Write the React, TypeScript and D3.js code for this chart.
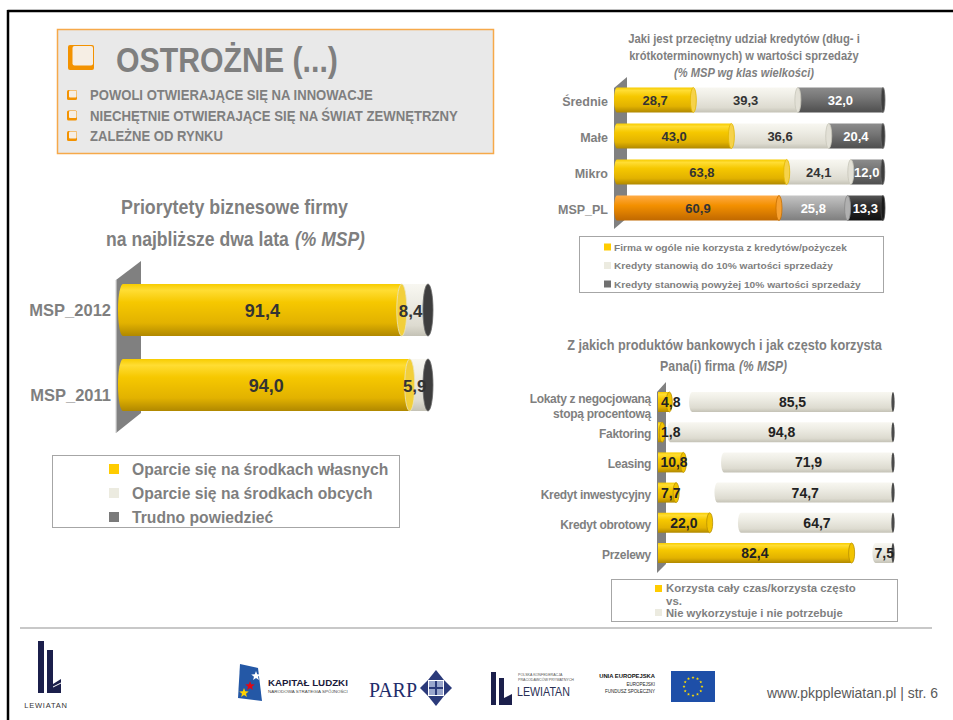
import React, { useLayoutEffect, useRef, useState } from 'react';
import * as d3 from 'd3';

const W = 953;
const H = 720;
const SANS = "'Liberation Sans', Arial, sans-serif";
const NARROW = "'Liberation Sans Narrow', 'Arial Narrow', 'Liberation Sans', sans-serif";
const GREY_TXT = '#7f7f7f';

// ---------- header ----------
const headerTitle = 'OSTROŻNE (...)';
const headerBullets = [
  'POWOLI OTWIERAJĄCE SIĘ NA INNOWACJE',
  'NIECHĘTNIE OTWIERAJĄCE SIĘ NA ŚWIAT ZEWNĘTRZNY',
  'ZALEŻNE OD RYNKU',
];
const headerBulletWidths = [283, 368, 133];

// ---------- chart 1: priorities ----------
const prioTitle1 = 'Priorytety biznesowe firmy';
const prioTitle2a = 'na najbliższe dwa lata';
const prioTitle2b = '(% MSP)';
const prioCategories = ['MSP_2012', 'MSP_2011'];
const prioOwn = [91.4, 94.0];
const prioForeign = [8.4, 5.9];
const prioHard = [0.2, 0.1];
const prioLegend = ['Oparcie się na środkach własnych', 'Oparcie się na środkach obcych', 'Trudno powiedzieć'];

// ---------- chart 2: credit share ----------
const creditTitle = ['Jaki jest przeciętny udział kredytów (dług- i', 'krótkoterminownych) w wartości sprzedaży', '(% MSP wg klas wielkości)'];
const creditCategories = ['Średnie', 'Małe', 'Mikro', 'MSP_PL'];
const creditNone = [28.7, 43.0, 63.8, 60.9];
const creditUpTo10 = [39.3, 36.6, 24.1, 25.8];
const creditOver10 = [32.0, 20.4, 12.0, 13.3];
const creditLegend = [
  'Firma w ogóle nie korzysta z kredytów/pożyczek',
  'Kredyty stanowią do 10% wartości sprzedaży',
  'Kredyty stanowią powyżej 10% wartości sprzedaży',
];
const creditLegendWidths = [233, 219, 247];

// ---------- chart 3: bank products ----------
const prodTitle1 = 'Z jakich produktów bankowych i jak często korzysta';
const prodTitle2a = 'Pana(i) firma';
const prodTitle2b = '(% MSP)';
const prodCategories = [
  ['Lokaty z negocjowaną', 'stopą procentową'],
  ['Faktoring'],
  ['Leasing'],
  ['Kredyt inwestycyjny'],
  ['Kredyt obrotowy'],
  ['Przelewy'],
];
const prodOften = [4.8, 1.8, 10.8, 7.7, 22.0, 82.4];
const prodNever = [85.5, 94.8, 71.9, 74.7, 64.7, 7.5];
const prodLegend = ['Korzysta cały czas/korzysta często', 'vs.', 'Nie wykorzystuje i nie potrzebuje'];

const fmt = (v: number) => d3.format('.1f')(v).replace('.', ',');

// Text horizontally scaled to a given width (imitates a condensed face)
function FitText({ x, y, width, anchor = 'start', children, ...rest }: any) {
  const ref = useRef<SVGTextElement>(null);
  const [s, setS] = useState(1);
  useLayoutEffect(() => {
    if (ref.current) {
      const w = ref.current.getComputedTextLength();
      if (w > 0) setS(width / w);
    }
  }, [width]);
  return (
    <text ref={ref} transform={`translate(${x},${y}) scale(${s},1)`} textAnchor={anchor} {...rest}>
      {children}
    </text>
  );
}

type Seg = { x0: number; x1: number; grad: string; cap: string; capStroke?: string; capRx?: number };

function Cylinder({ segs, yc, h, rx, leftRound = true }: { segs: Seg[]; yc: number; h: number; rx: number; leftRound?: boolean }) {
  const top = yc - h / 2;
  const bot = yc + h / 2;
  const ry = h / 2;
  return (
    <g>
      {segs.map((s, i) => {
        const round = i === 0 ? leftRound : false;
        const d = round
          ? `M${s.x0},${top}L${s.x1},${top}L${s.x1},${bot}L${s.x0},${bot}A${rx},${ry} 0 0 1 ${s.x0},${top}Z`
          : `M${s.x0},${top}L${s.x1},${top}L${s.x1},${bot}L${s.x0},${bot}Z`;
        return <path key={'b' + i} d={d} fill={`url(#${s.grad})`} />;
      })}
      {segs.map((s, i) => (
        <ellipse key={'c' + i} cx={s.x1} cy={yc} rx={s.capRx ?? rx} ry={ry} fill={s.cap} stroke={s.capStroke || 'none'} strokeWidth={0.8} />
      ))}
    </g>
  );
}

function Grad({ id, stops }: { id: string; stops: [number, string][] }) {
  return (
    <linearGradient id={id} x1="0" y1="0" x2="0" y2="1">
      {stops.map(([o, c], i) => (
        <stop key={i} offset={o} stopColor={c} />
      ))}
    </linearGradient>
  );
}

function Header() {
  const bulletY = d3.scalePoint<number>().domain(headerBullets.map((_, i) => i)).range([100, 141]);
  return (
    <g>
      <rect x={57.5} y={29.5} width={436} height={124} fill="#e9e9e9" stroke="#f6a94a" strokeWidth={1.5} />
      <rect x={68} y={45} width={26} height={25} rx={2} fill="#f39200" />
      <rect x={72.5} y={46} width={20.5} height={19.5} rx={2} fill="#f6eee4" />
      <FitText x={116} y={72} width={222} fontFamily={NARROW} fontWeight="bold" fontSize={36} fill={GREY_TXT}>
        {headerTitle}
      </FitText>
      {headerBullets.map((b, i) => {
        const y = bulletY(i)!;
        return (
          <g key={i}>
            <rect x={67} y={y - 10} width={10} height={10} rx={1.5} fill="#f39200" />
            <rect x={69} y={y - 9.5} width={7.5} height={7} rx={1} fill="#f6eee4" />
            <FitText x={90} y={y} width={headerBulletWidths[i]} fontFamily={NARROW} fontWeight="bold" fontSize={15.5} fill={GREY_TXT}>
              {b}
            </FitText>
          </g>
        );
      })}
    </g>
  );
}

function PrioChart() {
  const x = d3.scaleLinear().domain([0, 100]).range([123, 428]);
  const y = d3.scalePoint<string>().domain(prioCategories).range([310, 385]);
  const yLab = d3.scalePoint<string>().domain(prioCategories).range([310, 395]);
  const barH = 52;
  const legendY = d3.scalePoint<number>().domain([0, 1, 2]).range([469, 517]);
  const legendColors = ['#ffcc00', '#ecebe0', '#7a7a7a'];
  return (
    <g>
      <FitText x={234.5} y={214} width={227} anchor="middle" fontFamily={NARROW} fontWeight="bold" fontSize={21} fill={GREY_TXT}>
        {prioTitle1}
      </FitText>
      <FitText x={106} y={246} width={183} fontFamily={NARROW} fontWeight="bold" fontSize={21} fill={GREY_TXT}>
        {prioTitle2a}
      </FitText>
      <FitText x={295} y={246} width={70} fontFamily={NARROW} fontWeight="bold" fontStyle="italic" fontSize={21} fill={GREY_TXT}>
        {prioTitle2b}
      </FitText>
      {/* wall */}
      <polygon points="116,280 141,261 141,413 116,433" fill="#808080" />
      <line x1={116} y1={280} x2={116} y2={433} stroke="#d8d8d8" strokeWidth={1.2} />
      {prioCategories.map((c, i) => {
        const yc = y(c)!;
        const a = prioOwn[i];
        const b = a + prioForeign[i];
        const t = b + prioHard[i];
        return (
          <g key={c}>
            <Cylinder
              yc={yc}
              h={barH}
              rx={5}
              segs={[
                { x0: x(0), x1: x(a), grad: 'gYellow', cap: '#f2cf3a', capStroke: '#e8e3c0' },
                { x0: x(a), x1: x(b), grad: 'gLight', cap: '#d6d4c8' },
                { x0: x(b), x1: x(t), grad: 'gDark', cap: '#3e3e3e', capStroke: '#6a6a6a' },
              ]}
            />
            <text x={(x(0) + x(a)) / 2} y={yc + 7} textAnchor="middle" fontFamily={SANS} fontWeight="bold" fontSize={18} fill="#333">
              {fmt(a)}
            </text>
            <text x={(x(a) + x(b)) / 2 - 4} y={yc + 7} textAnchor="middle" fontFamily={SANS} fontWeight="bold" fontSize={17} fill="#333">
              {fmt(prioForeign[i])}
            </text>
            <text x={111} y={yLab(c)! + 6} textAnchor="end" fontFamily={SANS} fontWeight="bold" fontSize={16.5} fill={GREY_TXT}>
              {c}
            </text>
          </g>
        );
      })}
      {/* legend */}
      <rect x={52.5} y={455.5} width={347} height={72} fill="#fff" stroke="#a6a6a6" strokeWidth={1} />
      {prioLegend.map((l, i) => (
        <g key={l}>
          <rect x={109} y={legendY(i)! - 5} width={10} height={10} fill={legendColors[i]} />
          <text x={132} y={legendY(i)! + 5.5} fontFamily={SANS} fontWeight="bold" fontSize={15.7} fill={GREY_TXT}>
            {l}
          </text>
        </g>
      ))}
    </g>
  );
}

function CreditChart() {
  const x = d3.scaleLinear().domain([0, 100]).range([617, 883]);
  const y = d3.scalePoint<string>().domain(creditCategories).range([100, 208]);
  const barH = 25;
  const titleY = [43, 60, 77];
  const titleW = [232, 230, 140];
  const legendY = d3.scalePoint<number>().domain([0, 1, 2]).range([247, 284]);
  const legendColors = ['#ffcc00', '#ecebe0', '#707070'];
  return (
    <g>
      {creditTitle.map((t, i) => (
        <FitText key={i} x={744} y={titleY[i]} width={titleW[i]} anchor="middle" fontFamily={NARROW} fontWeight="bold" fontStyle={i === 2 ? 'italic' : 'normal'} fontSize={13} fill={GREY_TXT}>
          {t}
        </FitText>
      ))}
      <polygon points="614,88 627,77 627,218 614,229" fill="#808080" />
      {creditCategories.map((c, i) => {
        const yc = y(c)!;
        const a = creditNone[i];
        const b = a + creditUpTo10[i];
        const t = b + creditOver10[i];
        const pl = c === 'MSP_PL';
        const segs: Seg[] = pl
          ? [
              { x0: x(0), x1: x(a), grad: 'gOrange', cap: '#f7a030', capStroke: '#c87000' },
              { x0: x(a), x1: x(b), grad: 'gMid', cap: '#b0b0b0', capStroke: '#888' },
              { x0: x(b), x1: x(t), grad: 'gBlack', cap: '#1a1a1a', capStroke: '#444', capRx: 2 },
            ]
          : [
              { x0: x(0), x1: x(a), grad: 'gYellow', cap: '#f6d24a', capStroke: '#e2b800' },
              { x0: x(a), x1: x(b), grad: 'gLight', cap: '#e2e0d6', capStroke: '#c8c6ba' },
              { x0: x(b), x1: x(t), grad: 'gDark', cap: '#3e3e3e', capStroke: '#6a6a6a', capRx: 2 },
            ];
        const vals = [creditNone[i], creditUpTo10[i], creditOver10[i]];
        const colors = pl ? ['#333', '#fff', '#fff'] : ['#333', '#333', '#fff'];
        return (
          <g key={c}>
            <Cylinder yc={yc} h={barH} rx={3} segs={segs} />
            {segs.map((s, k) => (
              <text key={k} x={(s.x0 + s.x1) / 2} y={yc + 5} textAnchor="middle" fontFamily={SANS} fontWeight="bold" fontSize={13} fill={colors[k]}>
                {fmt(vals[k])}
              </text>
            ))}
            <text x={608} y={yc + 6} textAnchor="end" fontFamily={SANS} fontWeight="bold" fontSize={12.5} fill={GREY_TXT}>
              {c}
            </text>
          </g>
        );
      })}
      <rect x={579.5} y={236.5} width={304} height={56} fill="#fff" stroke="#a6a6a6" strokeWidth={1} />
      {creditLegend.map((l, i) => (
        <g key={l}>
          <rect x={604} y={legendY(i)! - 3.5} width={7} height={7} fill={legendColors[i]} />
          <FitText x={614} y={legendY(i)! + 3.5} width={creditLegendWidths[i]} fontFamily={SANS} fontWeight="bold" fontSize={9.8} fill={GREY_TXT}>
            {l}
          </FitText>
        </g>
      ))}
    </g>
  );
}

function ProductChart() {
  const x = d3.scaleLinear().domain([0, 100]).range([658, 893]);
  const y = d3.scalePoint<number>().domain(prodCategories.map((_, i) => i)).range([402, 553]);
  const barH = 20;
  return (
    <g>
      <FitText x={724.5} y={350} width={315} anchor="middle" fontFamily={NARROW} fontWeight="bold" fontSize={15} fill={GREY_TXT}>
        {prodTitle1}
      </FitText>
      <FitText x={660} y={371} width={75} fontFamily={NARROW} fontWeight="bold" fontSize={15} fill={GREY_TXT}>
        {prodTitle2a}
      </FitText>
      <FitText x={739} y={371} width={48} fontFamily={NARROW} fontWeight="bold" fontStyle="italic" fontSize={15} fill={GREY_TXT}>
        {prodTitle2b}
      </FitText>
      <polygon points="657,392 666,382 666,564 657,573" fill="#808080" />
      {prodCategories.map((lines, i) => {
        const yc = y(i)!;
        const often = prodOften[i];
        const never = prodNever[i];
        const gx0 = x(100 - never);
        const gx1 = x(100);
        const labW = d3.format('.1f')(often).length * 6.5;
        const lx = Math.max((x(0) + x(often)) / 2, x(0) + labW / 2 + 3);
        return (
          <g key={i}>
            <Cylinder yc={yc} h={barH} rx={3} segs={[{ x0: x(0), x1: x(often), grad: 'gYellow', cap: '#f2c400', capStroke: '#b89000' }]} leftRound={false} />
            <Cylinder yc={yc} h={barH} rx={3} segs={[{ x0: gx0, x1: gx1, grad: 'gLight', cap: '#4a4a4a', capRx: 1.6 }]} />
            <text x={lx} y={yc + 5} textAnchor="middle" fontFamily={SANS} fontWeight="bold" fontSize={14} fill="#222">
              {fmt(often)}
            </text>
            <text x={(gx0 + gx1) / 2} y={yc + 5} textAnchor="middle" fontFamily={SANS} fontWeight="bold" fontSize={14} fill="#222">
              {fmt(never)}
            </text>
            {lines.map((l, k) => (
              <text key={k} x={651} y={yc + 6 + (k - (lines.length - 1)) * 15 + (lines.length > 1 ? 10 : 0)} textAnchor="end" fontFamily={SANS} fontWeight="bold" fontSize={12} letterSpacing={-0.3} fill={GREY_TXT}>
                {l}
              </text>
            ))}
          </g>
        );
      })}
      <rect x={611.5} y={579.5} width={286} height={42} fill="#fff" stroke="#a6a6a6" strokeWidth={1} />
      <rect x={655} y={585} width={7} height={7} fill="#ffcc00" />
      <rect x={655} y={609} width={7} height={7} fill="#ecebe0" />
      <FitText x={666} y={592} width={190} fontFamily={SANS} fontWeight="bold" fontSize={11.5} fill={GREY_TXT}>
        {prodLegend[0]}
      </FitText>
      <text x={666} y={605} fontFamily={SANS} fontWeight="bold" fontSize={11.5} fill={GREY_TXT}>
        {prodLegend[1]}
      </text>
      <FitText x={666} y={617} width={177} fontFamily={SANS} fontWeight="bold" fontSize={11.5} fill={GREY_TXT}>
        {prodLegend[2]}
      </FitText>
    </g>
  );
}

function Star({ cx, cy, r, fill }: { cx: number; cy: number; r: number; fill: string }) {
  const pts = d3.range(10).map((k) => {
    const ang = -Math.PI / 2 + (k * Math.PI) / 5;
    const rr = k % 2 === 0 ? r : r * 0.42;
    return `${cx + rr * Math.cos(ang)},${cy + rr * Math.sin(ang)}`;
  });
  return <polygon points={pts.join(' ')} fill={fill} />;
}

function Footer() {
  const navy = '#1b1f4b';
  const euStars = d3.range(12).map((k) => {
    const a = (k * Math.PI * 2) / 12;
    return [693 + 9 * Math.cos(a), 686.5 + 9 * Math.sin(a)];
  });
  return (
    <g>
      <line x1={20} y1={628} x2={932} y2={628} stroke="#c8c8c8" strokeWidth={2} />
      {/* big Lewiatan logo */}
      <path d="M38,641 L44,641 L44,693 L38,693 Z" fill={navy} />
      <path d="M47,650 L53,650 L53,684 L61,679 L61,693 L47,693 Z" fill={navy} />
      <line x1={53} y1={687} x2={61} y2={683} stroke="#fff" strokeWidth={1} />
      <text x={46} y={708} textAnchor="middle" fontFamily={SANS} fontSize={7.5} letterSpacing={0.8} fill="#333">LEWIATAN</text>
      {/* Kapitał Ludzki */}
      <polygon points="240,664 258,668 262,701 238,698" fill="#2458a6" />
      <Star cx={256} cy={676} r={5} fill="#ffffff" />
      <Star cx={250} cy={686} r={5} fill="#e30613" />
      <Star cx={244} cy={693} r={5} fill="#ffd200" />
      <FitText x={268} y={686} width={80} fontFamily={SANS} fontWeight="bold" fontSize={9.5} fill="#1a1a3a">KAPITAŁ LUDZKI</FitText>
      <FitText x={268} y={693} width={80} fontFamily={SANS} fontSize={4} fill="#444">NARODOWA STRATEGIA SPÓJNOŚCI</FitText>
      {/* PARP */}
      <FitText x={369} y={697} width={48} fontFamily="'Liberation Serif', 'DejaVu Serif', serif" fontSize={22} fill="#1f2d6b">PARP</FitText>
      <polygon points="436,670 428,680 444,680" fill="#2b3a7a" />
      <polygon points="436,706 428,696 444,696" fill="#2b3a7a" />
      <polygon points="420,688 428,680 428,696" fill="#2b3a7a" />
      <polygon points="452,688 444,680 444,696" fill="#2b3a7a" />
      <rect x={429} y={681} width={14} height={14} fill="#9aa6cc" />
      <rect x={435} y={681} width={2} height={14} fill="#2b3a7a" />
      <rect x={429} y={687} width={14} height={2} fill="#2b3a7a" />
      {/* small Lewiatan */}
      <path d="M491,672 L496,672 L496,705 L491,705 Z" fill={navy} />
      <path d="M499,678 L504,678 L504,698 L512,694 L512,705 L499,705 Z" fill={navy} />
      <text x={518} y={676} fontFamily={SANS} fontSize={3.6} fill="#555">POLSKA KONFEDERACJA</text>
      <text x={518} y={681} fontFamily={SANS} fontSize={3.6} fill="#555">PRACODAWCÓW PRYWATNYCH</text>
      <FitText x={517} y={696} width={53} fontFamily={SANS} fontSize={12} fill="#2a2f55">LEWIATAN</FitText>
      {/* EU */}
      <FitText x={655} y={678} width={56} anchor="end" fontFamily={SANS} fontWeight="bold" fontSize={6} fill="#111">UNIA EUROPEJSKA</FitText>
      <text x={655} y={686} textAnchor="end" fontFamily={SANS} fontSize={4.5} fill="#222">EUROPEJSKI</text>
      <text x={655} y={693} textAnchor="end" fontFamily={SANS} fontSize={4.5} fill="#222">FUNDUSZ SPOŁECZNY</text>
      <rect x={671} y={671} width={44} height={31} fill="#1e4fa8" />
      {euStars.map(([sx, sy], k) => (
        <Star key={k} cx={sx} cy={sy} r={1.6} fill="#ffdd00" />
      ))}
      <FitText x={767} y={698} width={171} fontFamily={NARROW} fontSize={14} fill="#595959">www.pkpplewiatan.pl | str. 6</FitText>
    </g>
  );
}

export default function App() {
  return (
    <svg width={W} height={H} viewBox={`0 0 ${W} ${H}`} style={{ position: 'absolute', left: 0, top: 0, background: '#fff' }}>
      <defs>
        <Grad id="gYellow" stops={[[0, '#f7cc00'], [0.12, '#ffdd33'], [0.35, '#f6c800'], [0.75, '#e2b200'], [1, '#b08800']]} />
        <Grad id="gLight" stops={[[0, '#f8f7f1'], [0.3, '#efeee6'], [0.8, '#dddbd0'], [1, '#c4c2b6']]} />
        <Grad id="gDark" stops={[[0, '#8c8c8c'], [0.4, '#767676'], [1, '#4e4e4e']]} />
        <Grad id="gOrange" stops={[[0, '#ffab45'], [0.4, '#f39000'], [1, '#c06800']]} />
        <Grad id="gMid" stops={[[0, '#c4c4c4'], [0.4, '#a8a8a8'], [1, '#7e7e7e']]} />
        <Grad id="gBlack" stops={[[0, '#555'], [0.4, '#2c2c2c'], [1, '#111']]} />
      </defs>
      <rect x={0} y={0} width={W} height={H} fill="#fff" />
      {/* slide border */}
      <line x1={7.5} y1={11} x2={W} y2={11} stroke="#000" strokeWidth={2.5} />
      <line x1={8} y1={10} x2={8} y2={H} stroke="#000" strokeWidth={2.5} />
      <Header />
      <PrioChart />
      <CreditChart />
      <ProductChart />
      <Footer />
    </svg>
  );
}
